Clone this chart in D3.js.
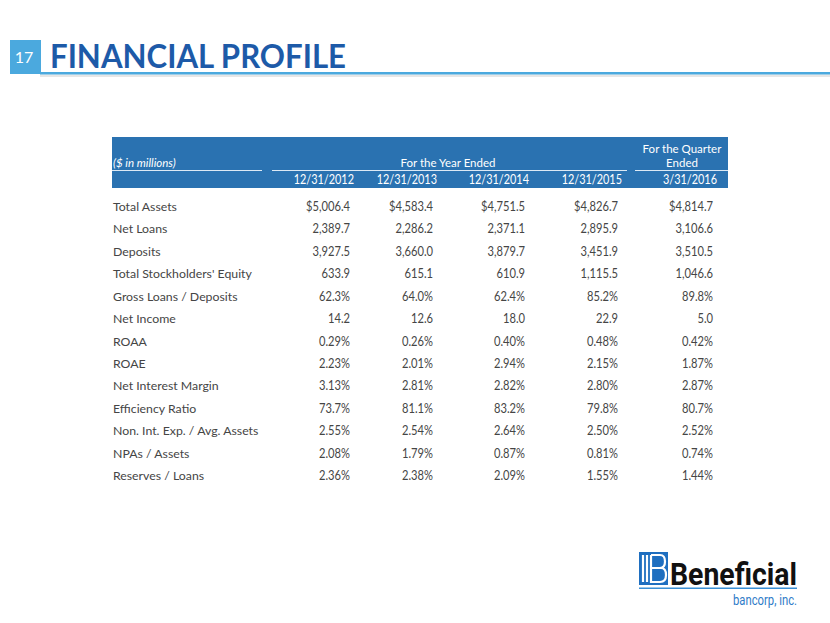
<!DOCTYPE html>
<html><head><meta charset="utf-8">
<script src="https://cdn.jsdelivr.net/npm/d3@7"></script>
<style>
html,body{margin:0;padding:0;background:#fff;}
svg{display:block;font-family:Lato,"Open Sans",sans-serif;}
</style></head>
<body>
<script>
// ---- data ----
const periods = ["12/31/2012","12/31/2013","12/31/2014","12/31/2015","3/31/2016"];
const rowLabels = ["Total Assets","Net Loans","Deposits","Total Stockholders' Equity","Gross Loans / Deposits","Net Income","ROAA","ROAE","Net Interest Margin","Efficiency Ratio","Non. Int. Exp. / Avg. Assets","NPAs / Assets","Reserves / Loans"];
const rowFormats = ["$,.1f",",.1f",",.1f",",.1f",".1f%",".1f",".2f%",".2f%",".2f%",".1f%",".2f%",".2f%",".2f%"];
const v2012 = [5006.4,2389.7,3927.5,633.9,62.3,14.2,0.29,2.23,3.13,73.7,2.55,2.08,2.36];
const v2013 = [4583.4,2286.2,3660.0,615.1,64.0,12.6,0.26,2.01,2.81,81.1,2.54,1.79,2.38];
const v2014 = [4751.5,2371.1,3879.7,610.9,62.4,18.0,0.40,2.94,2.82,83.2,2.64,0.87,2.09];
const v2015 = [4826.7,2895.9,3451.9,1115.5,85.2,22.9,0.48,2.15,2.80,79.8,2.50,0.81,1.55];
const v2016q1 = [4814.7,3106.6,3510.5,1046.6,89.8,5.0,0.42,1.87,2.87,80.7,2.52,0.74,1.44];
const seriesValues = [v2012,v2013,v2014,v2015,v2016q1];
const pageNumber = "17";
const pageTitle = "FINANCIAL PROFILE";

// ---- drawing ----
const W = 830, H = 623;
const svg = d3.select("body").append("svg").attr("width", W).attr("height", H);

// title bar
svg.append("rect").attr("x", 40).attr("y", 74.5).attr("width", W - 40).attr("height", 2.5).attr("fill", "#e6e6e6");
svg.append("rect").attr("x", 40).attr("y", 72).attr("width", W - 40).attr("height", 2.5).attr("fill", "#4ba9de");
svg.append("rect").attr("x", 10).attr("y", 40).attr("width", 31).attr("height", 34).attr("fill", "#4ba9de");
svg.append("text").attr("x", 24).attr("y", 63).attr("text-anchor", "middle")
  .attr("fill", "#fff").attr("font-size", 16).text(pageNumber);
svg.append("text").attr("x", 50).attr("y", 68).attr("fill", "#1d5aa8")
  .attr("font-size", 33).attr("font-weight", 700)
  .attr("textLength", 296).attr("lengthAdjust", "spacingAndGlyphs").text(pageTitle);

// table header
const tableLeft = 112, tableRight = 728;
const colRight = d3.scaleOrdinal().domain(d3.range(periods.length)).range([350, 433, 525, 618, 713]);
const y = d3.scaleLinear().domain([0, rowLabels.length - 1]).range([211, 480]);

svg.append("rect").attr("x", tableLeft).attr("y", 137).attr("width", tableRight - tableLeft).attr("height", 51).attr("fill", "#2a72b1");
const hdr = svg.append("g").attr("fill", "#fff").attr("font-size", 11.5);
hdr.append("text").attr("x", 113).attr("y", 167).attr("font-style", "italic").text("($ in millions)");
hdr.append("text").attr("x", 448).attr("y", 167).attr("text-anchor", "middle").text("For the Year Ended");
hdr.append("text").attr("x", 682).attr("y", 153).attr("text-anchor", "middle").text("For the Quarter");
hdr.append("text").attr("x", 682).attr("y", 167).attr("text-anchor", "middle").text("Ended");
[[112,262],[272,627],[635,728]].forEach(([a,b]) => {
  svg.append("line").attr("x1", a).attr("x2", b).attr("y1", 170.5).attr("y2", 170.5)
    .attr("stroke", "#dce9f5").attr("stroke-width", 1.2);
});
svg.append("g").selectAll("text").data(periods).join("text")
  .attr("x", (d, i) => colRight(i) + 4).attr("y", 184).attr("text-anchor", "end")
  .attr("fill", "#fff").attr("font-size", 12.8).text(d => d)
  .each(function() {
    const w = this.getComputedTextLength();
    d3.select(this).attr("textLength", w * 0.85).attr("lengthAdjust", "spacingAndGlyphs");
  });

// body
const body = svg.append("g").attr("fill", "#454545");
body.selectAll("text.lbl").data(rowLabels).join("text").attr("class", "lbl")
  .attr("font-size", 12.3).attr("x", 113).attr("y", (d, i) => y(i)).text(d => d);

function fmt(v, f) {
  if (f.endsWith("%")) return d3.format(f.slice(0, -1))(v) + "%";
  if (f.startsWith("$")) return "$" + d3.format(f.slice(1))(v);
  return d3.format(f)(v);
}
seriesValues.forEach((vals, c) => {
  body.append("g").attr("font-size", 12.4).selectAll("text").data(vals).join("text")
    .attr("x", colRight(c)).attr("y", (d, i) => y(i)).attr("text-anchor", "end")
    .text((d, i) => fmt(d, rowFormats[i]))
    .each(function() {
      const w = this.getComputedTextLength();
      d3.select(this).attr("textLength", w * 0.9).attr("lengthAdjust", "spacingAndGlyphs");
    });
});

// logo
const logo = svg.append("g");
logo.append("rect").attr("x", 639).attr("y", 552).attr("width", 29).attr("height", 33).attr("fill", "#1f6fc0");
logo.append("path").attr("fill", "none").attr("stroke", "#fff").attr("stroke-width", 2.2)
  .attr("d", "M643,555V582M647,555V582M651,555H660Q665,555 665,561.5Q665,568 660,568H651M651,568H661Q666,568 666,575Q666,582 660,582H651V555");
logo.append("text").attr("x", 670).attr("y", 585).attr("fill", "#111").attr("font-size", 31)
  .attr("font-weight", 700).attr("font-family", "Roboto, sans-serif")
  .attr("textLength", 127).attr("lengthAdjust", "spacingAndGlyphs").text("Beneficial");
logo.append("rect").attr("x", 639).attr("y", 587.5).attr("width", 158).attr("height", 1.5).attr("fill", "#3a8fd6");
logo.append("text").attr("x", 797).attr("y", 605).attr("text-anchor", "end").attr("fill", "#2f7cc8")
  .attr("font-size", 14).attr("font-family", "Roboto, sans-serif")
  .attr("textLength", 64).attr("lengthAdjust", "spacingAndGlyphs").text("bancorp, inc.");
</script>
</body></html>
